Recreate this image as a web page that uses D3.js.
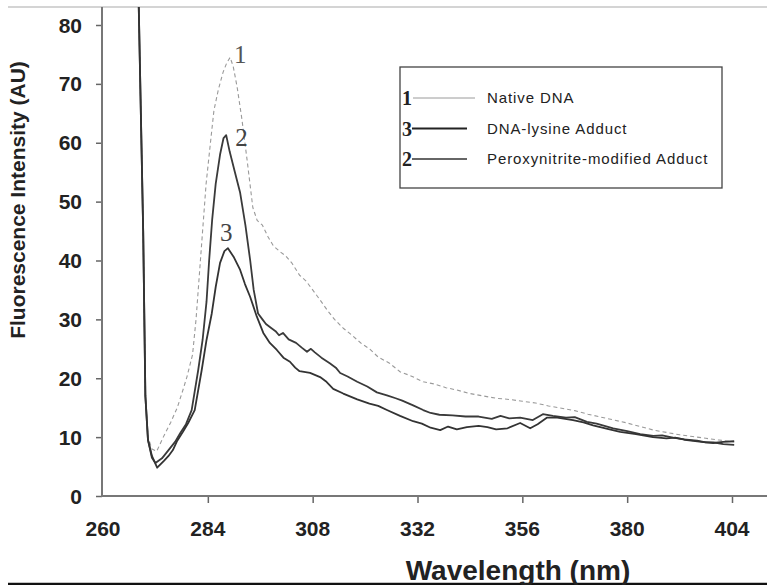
<!DOCTYPE html>
<html lang="en">
  <head>
    <meta charset="UTF-8" />
    <title>Fluorescence spectra</title>
    <script src="https://d3js.org/d3.v7.min.js"></script>
    <style>
      html,
      body {
        margin: 0;
        padding: 0;
        background-color: #fff;
      }
      svg {
        display: block;
      }
      .tick-label {
        font-family: Arial, "Liberation Sans", sans-serif;
        font-weight: bold;
        font-size: 21px;
        fill: #222;
      }
      .axis-title {
        font-family: Arial, "Liberation Sans", sans-serif;
        font-weight: bold;
        fill: #222;
      }
      .legend-text {
        font-family: Arial, "Liberation Sans", sans-serif;
        font-size: 15px;
        letter-spacing: 0.9px;
        fill: #222;
      }
      .num {
        font-family: "Times New Roman", "Liberation Serif", serif;
      }
    </style>
  </head>
  <body>
    <svg id="chart"></svg>
    <script>
      // Native DNA (curve 1)
      const nativeWl = [268, 269.2, 269.7, 270.3, 271.2, 272.3, 273.8, 275.5, 277, 278.3, 279.2, 280.5, 281.3, 282, 282.8, 283.6, 284.6, 285.4, 286.4, 287.5, 288.3, 289.1, 289.8, 290.7, 291.8, 293, 294.3, 295.3, 296.5, 297.8, 299, 300.5, 301.8, 303.3, 305, 306.5, 308, 309.5, 311.3, 313, 315, 317, 319, 321, 323, 325.5, 328, 330.5, 333.3, 336, 338.5, 341, 344, 347, 350, 353, 356, 359, 362, 365, 368, 371, 374, 377, 380, 383, 386, 389, 392, 395, 398, 401, 404.5];
      const nativeVal = [90, 45, 17, 10, 8, 7.6, 10, 12.5, 15, 18, 20.2, 24, 30, 37, 45, 53, 60, 65.5, 69, 72, 73.5, 74.5, 73, 69.5, 64, 57, 49, 46.8, 46, 44, 42.5, 41.5, 40.8, 39.5, 37.5, 36.5, 35, 33.5, 31.6, 30, 28.5, 27.3, 26, 25, 23.6, 22.6, 21.1, 20.4, 19.4, 19, 18.4, 18, 17.4, 17, 16.6, 16.4, 16.1, 15.8, 15.3, 14.9, 14.5, 13.9, 13.4, 12.9, 12.4, 11.8, 11.2, 10.8, 10.4, 10.1, 9.8, 9.5, 9.2];

      // Peroxynitrite-modified adduct (curve 2)
      const peroxWl = [268, 269.2, 269.7, 270.3, 271.2, 272, 273.5, 275, 276.5, 277.7, 279, 280.3, 281.8, 282.8, 283.7, 284.3, 285, 285.8, 286.8, 287.6, 288.2, 289, 290.2, 291.4, 292.6, 293.7, 294.5, 295.5, 296.5, 297.3, 298.2, 299.5, 300.3, 301.2, 302.5, 304.2, 305.5, 306.7, 307.6, 308.5, 310, 312, 313.3, 314.3, 316, 318.2, 320.5, 322.7, 325, 327, 328.5, 331, 333.3, 335, 337, 340, 343, 346, 349, 351, 353, 355.5, 358.4, 360.7, 363, 366, 368, 370.8, 373, 376.8, 380, 383, 386, 388, 390.5, 393, 396, 398, 399.7, 402, 404.5];
      const peroxVal = [90, 45, 17, 9.5, 6.5, 5.6, 6.4, 7.8, 9.2, 10.7, 12.2, 14.6, 21.4, 26.5, 33, 40, 47, 53, 58, 60.8, 61.3, 58.5, 55, 51.5, 46, 40, 35, 31, 30, 29.2, 28.7, 28, 27.3, 27.7, 26.6, 26, 25.2, 24.5, 25, 24.4, 23.5, 22.5, 21.8, 20.9, 20.3, 19.4, 18.6, 17.6, 17.1, 16.6, 16.2, 15.4, 14.6, 14.1, 13.8, 13.7, 13.5, 13.5, 13.1, 13.6, 13.2, 13.3, 12.9, 13.9, 13.6, 13.3, 13.4, 12.6, 12.3, 11.5, 11, 10.5, 10.2, 10.3, 9.9, 9.6, 9.4, 9.1, 9.1, 8.8, 8.7];

      // DNA-lysine adduct (curve 3)
      const lysineWl = [268, 269.2, 269.7, 270.3, 271.2, 272.4, 274, 275, 276, 277, 278.3, 279.5, 281, 282.6, 283.7, 284.9, 285.8, 286.8, 287.8, 288.6, 290, 291.4, 292.5, 293.7, 295.2, 296.7, 298.2, 299.8, 301.3, 302.8, 304, 305, 307.4, 309.7, 311, 312.7, 315, 318.2, 321, 323, 325, 328, 331, 333, 335, 337.2, 339, 341, 343.3, 346, 348, 350, 352.6, 355.5, 357.8, 359.5, 361.6, 364, 367.6, 370, 372.2, 375, 378.4, 382, 385.9, 389, 391, 393.7, 397, 399.7, 402, 404.5];
      const lysineVal = [90, 45, 17, 9.5, 6.8, 4.8, 6, 6.8, 7.8, 9.4, 10.9, 12.4, 14.6, 21.4, 26.5, 31, 35.5, 39.6, 41.6, 42.1, 40.5, 38.4, 36, 33.8, 30.5, 27.7, 26, 24.8, 23.5, 22.8, 21.8, 21.2, 20.9, 20.2, 19.5, 18.2, 17.4, 16.4, 15.7, 15.3, 14.6, 13.6, 12.7, 12.3, 11.6, 11.2, 11.8, 11.3, 11.7, 11.9, 11.7, 11.3, 11.5, 12.4, 11.5, 12.2, 13.3, 13.3, 12.9, 12.5, 12, 11.5, 10.9, 10.5, 10, 9.8, 9.9, 9.5, 9.2, 9, 9.2, 9.3];

      const xTicks = [260, 284, 308, 332, 356, 380, 404];
      const yTicks = [0, 10, 20, 30, 40, 50, 60, 70, 80];
      const legendNums = ["1", "3", "2"];
      const legendNames = ["Native DNA", "DNA-lysine Adduct", "Peroxynitrite-modified Adduct"];

      const W = 767;
      const H = 585;

      const svg = d3.select("#chart").attr("width", W).attr("height", H);

      const x = d3.scaleLinear().domain([260, 404]).range([103, 732]);
      const y = d3.scaleLinear().domain([0, 80]).range([496, 25]);

      // frame lines of the scanned figure
      svg.append("line")
        .attr("x1", 8).attr("x2", W).attr("y1", 7).attr("y2", 7)
        .attr("stroke", "#d4d4d4").attr("stroke-width", 2);
      svg.append("line")
        .attr("x1", 8).attr("x2", W).attr("y1", 584).attr("y2", 584)
        .attr("stroke", "#111").attr("stroke-width", 2.5);

      // clip so the curves run off the top like the original
      svg.append("clipPath").attr("id", "plot-clip")
        .append("rect")
        .attr("x", x(260)).attr("y", 7)
        .attr("width", W - x(260)).attr("height", y(0) - 7);

      // axes
      const yAxis = d3.axisLeft(y).tickValues(yTicks).tickSize(6).tickFormat("");
      svg.append("g")
        .attr("transform", `translate(${x(260) - 1},0)`)
        .call(yAxis)
        .call((g) => g.select(".domain").remove())
        .call((g) => g.selectAll("line").attr("stroke", "#666").attr("stroke-width", 1.5));
      svg.append("line")
        .attr("x1", x(260) - 1).attr("x2", x(260) - 1)
        .attr("y1", 7).attr("y2", y(0) + 1)
        .attr("stroke", "#777").attr("stroke-width", 2);

      const xAxis = d3.axisBottom(x).tickValues(xTicks.slice(1)).tickSize(7).tickFormat("");
      svg.append("g")
        .attr("transform", `translate(0,${y(0)})`)
        .call(xAxis)
        .call((g) => g.select(".domain").remove())
        .call((g) => g.selectAll("line").attr("stroke", "#666").attr("stroke-width", 1.5));
      svg.append("line")
        .attr("x1", x(260) - 2).attr("x2", W)
        .attr("y1", y(0)).attr("y2", y(0))
        .attr("stroke", "#777").attr("stroke-width", 2);

      // tick labels
      svg.selectAll(".ylab")
        .data(yTicks)
        .enter()
        .append("text")
        .attr("class", "tick-label")
        .attr("x", 82)
        .attr("y", (d) => y(d) + 7.5)
        .attr("text-anchor", "end")
        .text((d) => d);

      svg.selectAll(".xlab")
        .data(xTicks)
        .enter()
        .append("text")
        .attr("class", "tick-label")
        .attr("x", (d) => x(d))
        .attr("y", 536)
        .attr("text-anchor", "middle")
        .text((d) => d);

      // axis titles
      svg.append("text")
        .attr("class", "axis-title")
        .attr("font-size", "28px")
        .attr("x", 518)
        .attr("y", 580)
        .attr("text-anchor", "middle")
        .text("Wavelength (nm)");

      svg.append("text")
        .attr("class", "axis-title")
        .attr("font-size", "21px")
        .attr("transform", "translate(25,200) rotate(-90)")
        .attr("text-anchor", "middle")
        .text("Fluorescence Intensity (AU)");

      // curves
      const line = d3.line()
        .x((d) => x(d[0]))
        .y((d) => y(d[1]));

      const series = [
        { wl: nativeWl, val: nativeVal, stroke: "#9a9a9a", width: 1.1, dash: "4,3" },
        { wl: peroxWl, val: peroxVal, stroke: "#3a3a3a", width: 1.8, dash: null },
        { wl: lysineWl, val: lysineVal, stroke: "#333", width: 1.8, dash: null },
      ];

      const plot = svg.append("g").attr("clip-path", "url(#plot-clip)");
      series.forEach((s) => {
        plot.append("path")
          .datum(d3.zip(s.wl, s.val))
          .attr("fill", "none")
          .attr("stroke", s.stroke)
          .attr("stroke-width", s.width)
          .attr("stroke-dasharray", s.dash)
          .attr("stroke-linejoin", "round")
          .attr("d", line);
      });

      // curve numbers next to the peaks
      const peakLabels = [
        { t: "1", wl: 290, v: 73.5, fill: "#555" },
        { t: "2", wl: 290.3, v: 59.5, fill: "#444" },
        { t: "3", wl: 286.8, v: 43.3, fill: "#444" },
      ];
      svg.selectAll(".peak")
        .data(peakLabels)
        .enter()
        .append("text")
        .attr("class", "num")
        .attr("font-size", "25px")
        .attr("fill", (d) => d.fill)
        .attr("x", (d) => x(d.wl))
        .attr("y", (d) => y(d.v))
        .text((d) => d.t);

      // legend
      const legend = svg.append("g");
      legend.append("rect")
        .attr("x", 400).attr("y", 67)
        .attr("width", 322).attr("height", 121)
        .attr("fill", "#fff")
        .attr("stroke", "#444")
        .attr("stroke-width", 1.3);

      const legendStyle = [
        { stroke: "#9a9a9a", width: 1 },
        { stroke: "#222", width: 2 },
        { stroke: "#333", width: 1.5 },
      ];
      legendNames.forEach((name, i) => {
        const cy = 98 + i * 30.5;
        legend.append("text")
          .attr("class", "num")
          .attr("font-size", "20px")
          .attr("font-weight", "bold")
          .attr("fill", "#222")
          .attr("x", 402)
          .attr("y", cy + 7)
          .text(legendNums[i]);
        legend.append("line")
          .attr("x1", i === 0 ? 413 : 412).attr("x2", i === 0 ? 475 : 467)
          .attr("y1", cy).attr("y2", cy)
          .attr("stroke", legendStyle[i].stroke)
          .attr("stroke-width", legendStyle[i].width);
        legend.append("text")
          .attr("class", "legend-text")
          .attr("x", 487)
          .attr("y", cy + 5)
          .text(name);
      });
    </script>
  </body>
</html>
